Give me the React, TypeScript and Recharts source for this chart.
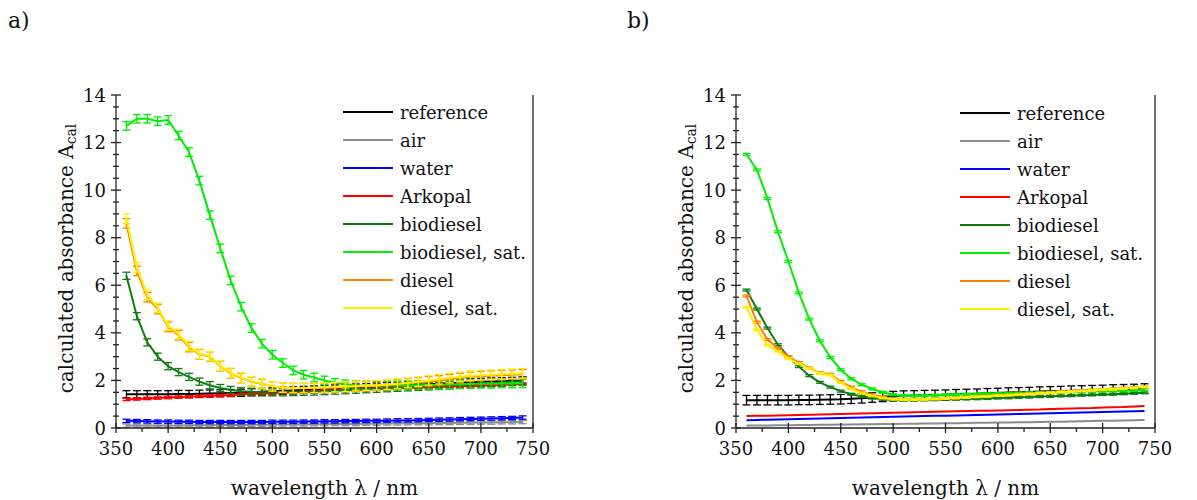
import { LineChart, Line, XAxis, YAxis, ErrorBar, Legend } from 'recharts';

const wavelengths = [
  360, 370, 380, 390, 400, 410, 420, 430, 440, 450, 460, 470, 480, 490, 500, 510, 520, 530, 540, 550,
  560, 570, 580, 590, 600, 610, 620, 630, 640, 650, 660, 670, 680, 690, 700, 710, 720, 730, 740,
];

const seriesNames = ['reference', 'air', 'water', 'Arkopal', 'biodiesel', 'biodiesel, sat.', 'diesel', 'diesel, sat.'];
const seriesColors = ['#000000', '#8c8c8c', '#0000ff', '#ff0000', '#107c10', '#00ee00', '#ff8000', '#ffee00'];

// panel a
const refA = [1.42, 1.42, 1.42, 1.42, 1.42, 1.43, 1.43, 1.44, 1.45, 1.46, 1.47, 1.48, 1.5, 1.52, 1.54, 1.56, 1.58, 1.6, 1.62, 1.64, 1.66, 1.68, 1.7, 1.72, 1.74, 1.76, 1.78, 1.8, 1.82, 1.84, 1.86, 1.88, 1.9, 1.92, 1.94, 1.96, 1.97, 1.98, 2.0];
const airA = [0.1, 0.1, 0.1, 0.11, 0.11, 0.11, 0.12, 0.12, 0.12, 0.13, 0.13, 0.13, 0.14, 0.14, 0.14, 0.15, 0.15, 0.15, 0.16, 0.16, 0.17, 0.17, 0.17, 0.18, 0.18, 0.19, 0.19, 0.2, 0.2, 0.2, 0.21, 0.21, 0.22, 0.22, 0.23, 0.23, 0.24, 0.24, 0.25];
const waterA = [0.3, 0.29, 0.28, 0.27, 0.27, 0.26, 0.26, 0.25, 0.25, 0.25, 0.25, 0.25, 0.25, 0.25, 0.26, 0.26, 0.26, 0.27, 0.27, 0.28, 0.28, 0.29, 0.29, 0.3, 0.3, 0.31, 0.32, 0.32, 0.33, 0.34, 0.35, 0.36, 0.37, 0.38, 0.39, 0.4, 0.41, 0.42, 0.44];
const arkA = [1.2, 1.22, 1.24, 1.26, 1.28, 1.3, 1.31, 1.33, 1.35, 1.37, 1.39, 1.41, 1.43, 1.45, 1.47, 1.49, 1.5, 1.52, 1.54, 1.56, 1.58, 1.6, 1.61, 1.63, 1.64, 1.66, 1.67, 1.69, 1.7, 1.71, 1.73, 1.74, 1.75, 1.77, 1.78, 1.8, 1.81, 1.83, 1.85];
const bioA = [6.4, 4.7, 3.6, 3.0, 2.6, 2.35, 2.15, 1.95, 1.8, 1.68, 1.6, 1.55, 1.52, 1.5, 1.5, 1.5, 1.51, 1.52, 1.53, 1.55, 1.57, 1.59, 1.61, 1.63, 1.65, 1.67, 1.69, 1.71, 1.73, 1.75, 1.77, 1.79, 1.81, 1.83, 1.86, 1.88, 1.91, 1.94, 1.97];
const bioSatA = [12.7, 13.0, 13.0, 12.9, 12.95, 12.3, 11.6, 10.4, 8.95, 7.55, 6.2, 5.1, 4.2, 3.55, 3.08, 2.73, 2.42, 2.24, 2.12, 2.0, 1.9, 1.84, 1.8, 1.78, 1.78, 1.78, 1.79, 1.8, 1.8, 1.81, 1.82, 1.83, 1.84, 1.85, 1.86, 1.86, 1.87, 1.87, 1.88];
const dieselA = [8.6, 6.6, 5.5, 5.0, 4.25, 3.9, 3.4, 3.1, 3.0, 2.6, 2.3, 2.1, 1.95, 1.85, 1.75, 1.7, 1.68, 1.68, 1.68, 1.69, 1.7, 1.72, 1.74, 1.76, 1.78, 1.8, 1.84, 1.88, 1.92, 1.96, 2.0, 2.05, 2.1, 2.15, 2.18, 2.2, 2.22, 2.24, 2.26];
const dieselSatA = [8.8, 6.75, 5.6, 5.05, 4.3, 3.95, 3.45, 3.12, 3.02, 2.62, 2.32, 2.12, 1.97, 1.87, 1.75, 1.7, 1.68, 1.68, 1.69, 1.7, 1.72, 1.74, 1.76, 1.78, 1.8, 1.82, 1.86, 1.9, 1.95, 2.0, 2.05, 2.1, 2.15, 2.2, 2.22, 2.24, 2.26, 2.28, 2.3];
const errA = [0.15, 0.07, 0.07, 0.05, 0.15, 0.18, 0.2, 0.2];

// panel b
const refB = [1.17, 1.17, 1.17, 1.17, 1.17, 1.18, 1.18, 1.19, 1.2, 1.21, 1.23, 1.25, 1.28, 1.31, 1.34, 1.36, 1.37, 1.38, 1.39, 1.4, 1.42, 1.43, 1.44, 1.46, 1.47, 1.49, 1.5, 1.51, 1.53, 1.54, 1.55, 1.57, 1.58, 1.59, 1.6, 1.62, 1.63, 1.64, 1.66];
const airB = [0.1, 0.11, 0.11, 0.12, 0.12, 0.13, 0.13, 0.14, 0.14, 0.15, 0.15, 0.16, 0.16, 0.17, 0.17, 0.18, 0.18, 0.19, 0.19, 0.2, 0.2, 0.21, 0.22, 0.22, 0.23, 0.23, 0.24, 0.24, 0.25, 0.26, 0.26, 0.27, 0.28, 0.29, 0.3, 0.31, 0.32, 0.33, 0.34];
const waterB = [0.33, 0.34, 0.35, 0.36, 0.37, 0.38, 0.39, 0.4, 0.41, 0.42, 0.43, 0.44, 0.45, 0.46, 0.47, 0.48, 0.49, 0.5, 0.51, 0.52, 0.53, 0.54, 0.55, 0.56, 0.57, 0.58, 0.59, 0.6, 0.61, 0.62, 0.63, 0.64, 0.65, 0.66, 0.67, 0.68, 0.69, 0.7, 0.71];
const arkB = [0.5, 0.51, 0.52, 0.53, 0.54, 0.55, 0.56, 0.57, 0.58, 0.59, 0.6, 0.61, 0.62, 0.63, 0.64, 0.65, 0.66, 0.67, 0.68, 0.69, 0.7, 0.71, 0.72, 0.73, 0.74, 0.75, 0.76, 0.77, 0.78, 0.8, 0.81, 0.82, 0.83, 0.84, 0.86, 0.87, 0.88, 0.9, 0.92];
const bioB = [5.8, 5.0, 4.2, 3.5, 3.0, 2.58, 2.2, 1.92, 1.72, 1.55, 1.42, 1.33, 1.26, 1.21, 1.18, 1.17, 1.17, 1.18, 1.19, 1.2, 1.21, 1.22, 1.23, 1.24, 1.26, 1.27, 1.29, 1.3, 1.32, 1.33, 1.35, 1.36, 1.38, 1.39, 1.41, 1.42, 1.44, 1.46, 1.48];
const bioSatB = [11.5, 10.85, 9.65, 8.25, 7.0, 5.68, 4.58, 3.67, 2.97, 2.45, 2.07, 1.82, 1.64, 1.5, 1.4, 1.36, 1.35, 1.36, 1.38, 1.4, 1.41, 1.42, 1.43, 1.44, 1.45, 1.46, 1.47, 1.48, 1.49, 1.5, 1.51, 1.52, 1.53, 1.54, 1.55, 1.56, 1.57, 1.58, 1.6];
const dieselB = [5.55, 4.45, 3.72, 3.35, 3.0, 2.75, 2.52, 2.32, 2.26, 1.95, 1.72, 1.52, 1.4, 1.3, 1.23, 1.2, 1.2, 1.21, 1.23, 1.25, 1.27, 1.29, 1.32, 1.34, 1.37, 1.39, 1.42, 1.44, 1.47, 1.49, 1.52, 1.54, 1.57, 1.59, 1.62, 1.64, 1.67, 1.69, 1.72];
const dieselSatB = [5.08, 4.12, 3.48, 3.22, 2.92, 2.7, 2.5, 2.3, 2.22, 1.9, 1.65, 1.46, 1.35, 1.26, 1.21, 1.19, 1.19, 1.2, 1.22, 1.24, 1.26, 1.28, 1.31, 1.33, 1.36, 1.38, 1.41, 1.43, 1.46, 1.48, 1.51, 1.53, 1.56, 1.58, 1.61, 1.63, 1.66, 1.69, 1.73];
const errB = [0.2, 0, 0, 0, 0.04, 0.04, 0.04, 0.03];

const xTicks = [350, 375, 400, 425, 450, 475, 500, 525, 550, 575, 600, 625, 650, 675, 700, 725, 750];
const xLabels = [350, 400, 450, 500, 550, 600, 650, 700, 750];
const yTicks = [0, 0.5, 1, 1.5, 2, 2.5, 3, 3.5, 4, 4.5, 5, 5.5, 6, 6.5, 7, 7.5, 8, 8.5, 9, 9.5, 10, 10.5, 11, 11.5, 12, 12.5, 13, 13.5, 14];
const yLabels = [0, 2, 4, 6, 8, 10, 12, 14];

const FONT = '"DejaVu Serif", serif';
const AXIS = '#222';

function buildRows(series: number[][], errs: number[]) {
  return wavelengths.map((wl, i) => {
    const row: any = { wl };
    series.forEach((s, k) => {
      row[`s${k}`] = s[i];
      row[`e${k}`] = errs[k];
    });
    return row;
  });
}

const LeftTick = ({ x, y, payload }: any) => {
  const major = yLabels.includes(payload.value);
  return (
    <g>
      <line x1={x - (major ? 5 : 3)} x2={x + (major ? 5 : 3)} y1={y} y2={y} stroke={AXIS} strokeWidth={1.3} />
      {major && (
        <text x={x - 10} y={y} textAnchor="end" dominantBaseline="central" fontSize={18} fontFamily={FONT} fill="#111">
          {payload.value}
        </text>
      )}
    </g>
  );
};

const RightTick = ({ x, y, payload }: any) => {
  const major = yLabels.includes(payload.value);
  return (
    <g>
      <line x1={x - (major ? 5 : 3)} x2={x + (major ? 5 : 3)} y1={y} y2={y} stroke={AXIS} strokeWidth={1.3} />
      {major && (
        <text x={x + 11} y={y} textAnchor="start" dominantBaseline="central" fontSize={18} fontFamily={FONT} fill="#111">
          {payload.value}
        </text>
      )}
    </g>
  );
};

const BottomTick = ({ x, y, payload }: any) => {
  const major = xLabels.includes(payload.value);
  return (
    <g>
      <line x1={x} x2={x} y1={y - (major ? 5 : 0)} y2={y + (major ? 5 : 4)} stroke={AXIS} strokeWidth={1.3} />
      {major && (
        <text x={x} y={y + 20} textAnchor="middle" dominantBaseline="central" fontSize={18} fontFamily={FONT} fill="#111">
          {payload.value}
        </text>
      )}
    </g>
  );
};

const XTitle = ({ viewBox }: any) => (
  <text
    x={viewBox.x + viewBox.width / 2}
    y={viewBox.y + 60}
    textAnchor="middle"
    dominantBaseline="central"
    fontSize={20}
    fontFamily={FONT}
    fill="#111"
  >
    wavelength λ / nm
  </text>
);

const YTitle = ({ viewBox }: any) => {
  const cx = viewBox.x + 66;
  const cy = viewBox.y + viewBox.height / 2 - 3;
  return (
    <text
      transform={`translate(${cx},${cy}) rotate(-90)`}
      textAnchor="middle"
      dominantBaseline="central"
      fontSize={20}
      fontFamily={FONT}
      fill="#111"
    >
      calculated absorbance A
      <tspan fontSize={14} dy={5}>cal</tspan>
    </text>
  );
};

const LegendBox = () => (
  <div style={{ fontFamily: FONT, fontSize: 18, color: '#111' }}>
    {seriesNames.map((name, i) => (
      <div key={name} style={{ height: 28, display: 'flex', alignItems: 'center', whiteSpace: 'nowrap' }}>
        <span style={{ display: 'inline-block', width: 50, height: 2.5, background: seriesColors[i], marginRight: 7 }} />
        <span>{name}</span>
      </div>
    ))}
  </div>
);

function Panel({ rows, errs, legendTop, legendLeft, rightMargin }: any) {
  return (
    <LineChart
      width={577}
      height={500}
      data={rows}
      margin={{ top: 95, right: rightMargin, bottom: 0, left: 0 }}
    >
      <XAxis
        xAxisId="top"
        orientation="top"
        type="number"
        dataKey="wl"
        domain={[350, 750]}
        height={0}
        tick={false}
        tickLine={false}
        axisLine={{ stroke: AXIS, strokeWidth: 1.3 }}
      />
      <XAxis
        xAxisId="b"
        type="number"
        dataKey="wl"
        domain={[350, 750]}
        ticks={xTicks}
        interval={0}
        height={72}
        tickSize={0}
        tickMargin={0}
        tickLine={false}
        tick={<BottomTick />}
        axisLine={{ stroke: AXIS, strokeWidth: 1.3 }}
        label={{ content: <XTitle /> }}
      />
      <YAxis
        yAxisId="l"
        type="number"
        domain={[0, 14]}
        ticks={yTicks}
        interval={0}
        width={116}
        tickSize={0}
        tickMargin={0}
        tickLine={false}
        tick={<LeftTick />}
        axisLine={{ stroke: AXIS, strokeWidth: 1.3 }}
        label={{ content: <YTitle /> }}
      />
      <YAxis
        yAxisId="r"
        orientation="right"
        type="number"
        domain={[0, 14]}
        ticks={yTicks}
        interval={0}
        width={40}
        tickSize={0}
        tickMargin={0}
        tickLine={false}
        tick={<RightTick />}
        axisLine={{ stroke: AXIS, strokeWidth: 1.3 }}
      />
      {seriesNames.map((name, k) => (
        <Line
          key={name}
          xAxisId="b"
          yAxisId="l"
          type="linear"
          dataKey={`s${k}`}
          name={name}
          stroke={seriesColors[k]}
          strokeWidth={2}
          dot={false}
          isAnimationActive={false}
        >
          {errs[k] > 0 && (
            <ErrorBar
              dataKey={`e${k}`}
              direction="y"
              width={4}
              stroke={seriesColors[k]}
              strokeWidth={1.3}
              isAnimationActive={false}
            />
          )}
        </Line>
      ))}
      <Legend
        layout="vertical"
        align="center"
        verticalAlign="middle"
        wrapperStyle={{ top: legendTop, left: legendLeft, width: 240 }}
        content={<LegendBox />}
      />
    </LineChart>
  );
}

export default function App() {
  const rowsA = buildRows([refA, airA, waterA, arkA, bioA, bioSatA, dieselA, dieselSatA], errA);
  const rowsB = buildRows([refB, airB, waterB, arkB, bioB, bioSatB, dieselB, dieselSatB], errB);
  return (
    <div style={{ position: 'absolute', left: 0, top: 0, width: 1197, height: 500, background: '#fff', fontFamily: FONT }}>
      <div style={{ position: 'absolute', left: 8, top: 8, fontSize: 22, color: '#111' }}>a)</div>
      <div style={{ position: 'absolute', left: 627, top: 8, fontSize: 22, color: '#111' }}>b)</div>
      <div style={{ position: 'absolute', left: 0, top: 0 }}>
        <Panel rows={rowsA} errs={errA} legendTop={98} legendLeft={343} rightMargin={4} />
      </div>
      <div style={{ position: 'absolute', left: 620, top: 0 }}>
        <Panel rows={rowsB} errs={errB} legendTop={99} legendLeft={340} rightMargin={2} />
      </div>
    </div>
  );
}
